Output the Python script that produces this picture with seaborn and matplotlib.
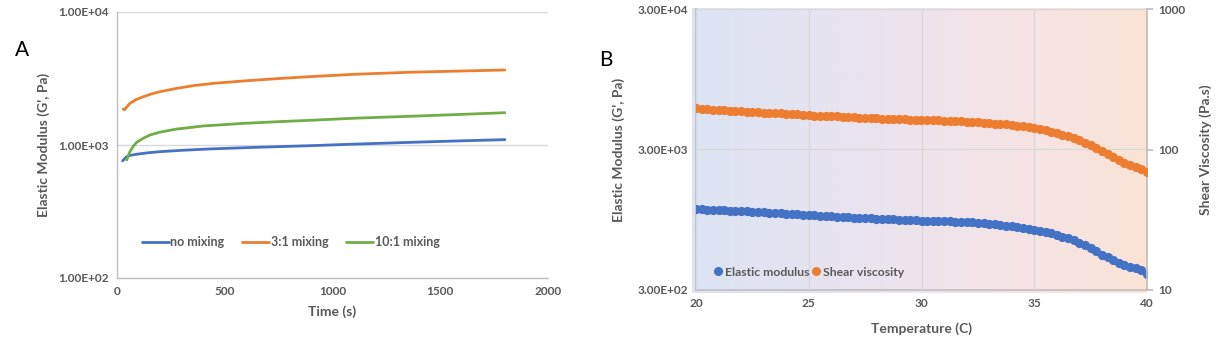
import numpy as np
import pandas as pd
import matplotlib
matplotlib.use("Agg")
import matplotlib.pyplot as plt
from matplotlib.colors import LinearSegmentedColormap
from matplotlib.ticker import FixedLocator, FixedFormatter, NullLocator
from matplotlib.lines import Line2D
import seaborn as sns

sns.set_theme(style="white")
plt.rcParams['font.family'] = ['Lato', 'DejaVu Sans']

# ---------------- Panel A data ----------------
time_no_mix = [26, 35, 45, 60, 91, 140, 200, 300, 431, 600, 750, 896, 1100, 1360, 1600, 1800]
g_no_mix = [759, 790, 817, 835, 852, 873, 891, 912, 934, 955, 972, 988, 1015, 1047, 1075, 1097]

time_3to1 = [29, 35, 45, 60, 90, 122, 160, 200, 280, 354, 450, 586, 750, 896, 1100, 1360, 1600, 1800]
g_3to1 = [1867, 1840, 1930, 2056, 2200, 2306, 2420, 2517, 2670, 2794, 2910, 3030, 3160, 3265, 3400, 3524, 3600, 3664]

time_10to1 = [45, 52, 60, 75, 91, 120, 153, 200, 277, 400, 586, 750, 896, 1100, 1360, 1600, 1800]
g_10to1 = [771, 830, 891, 975, 1047, 1120, 1189, 1250, 1318, 1390, 1454, 1498, 1533, 1590, 1644, 1700, 1749]

labels_a = ["no mixing", "3:1 mixing", "10:1 mixing"]
a_yticks = [100, 1000, 10000]
a_yticklabels = ["1.00E+02", "1.00E+03", "1.00E+04"]
a_xticks = [0, 500, 1000, 1500, 2000]

# ---------------- Panel B data ----------------
temperature = [20.00, 20.25, 20.50, 20.75, 21.00, 21.25, 21.50, 21.75, 22.00, 22.25,
               22.50, 22.75, 23.00, 23.25, 23.50, 23.75, 24.00, 24.25, 24.50, 24.75,
               25.00, 25.25, 25.50, 25.75, 26.00, 26.25, 26.50, 26.75, 27.00, 27.25,
               27.50, 27.75, 28.00, 28.25, 28.50, 28.75, 29.00, 29.25, 29.50, 29.75,
               30.00, 30.25, 30.50, 30.75, 31.00, 31.25, 31.50, 31.75, 32.00, 32.25,
               32.50, 32.75, 33.00, 33.25, 33.50, 33.75, 34.00, 34.25, 34.50, 34.75,
               35.00, 35.25, 35.50, 35.75, 36.00, 36.25, 36.50, 36.75, 37.00, 37.25,
               37.50, 37.75, 38.00, 38.25, 38.50, 38.75, 39.00, 39.25, 39.50, 39.75,
               40.00]
elastic_modulus = [1130, 1124, 1121, 1118, 1110, 1107, 1103, 1096, 1092, 1088,
                   1083, 1077, 1072, 1068, 1061, 1056, 1050, 1046, 1038, 1033,
                   1027, 1020, 1012, 1008, 1002, 998, 996, 988, 983, 980,
                   976, 971, 968, 966, 960, 956, 952, 950, 946, 940,
                   936, 934, 932, 927, 925, 922, 918, 915, 911, 908,
                   901, 894, 886, 879, 870, 860, 850, 840, 829, 816,
                   803, 789, 774, 758, 740, 719, 699, 676, 652, 625,
                   597, 564, 535, 512, 490, 470, 452, 438, 427, 414,
                   392]
shear_viscosity = [196, 194, 193, 192, 191, 190, 189, 188, 187, 186,
                   185, 184, 183, 182, 181, 180.5, 179.5, 178.5, 177.5, 176.5,
                   175.5, 174.5, 173.5, 173, 172.5, 172, 171, 170, 169, 168,
                   167.5, 167, 166.5, 166, 165.5, 165, 164.5, 164, 163.5, 163,
                   162.5, 162, 161.5, 161, 160.5, 160, 159.5, 158.5, 158, 157,
                   156, 155, 154, 153, 152, 151, 149.5, 148, 146, 144,
                   142, 139.5, 137, 134, 131, 127.5, 124, 120.5, 117, 112,
                   107, 102, 97, 93, 89, 84.5, 80, 77, 74.5, 73,
                   69.5]
b_left_ticks = [300, 3000, 30000]
b_left_labels = ["3.00E+02", "3.00E+03", "3.00E+04"]
b_right_ticks = [10, 100, 1000]
b_right_labels = ["10", "100", "1000"]
b_xticks = [20, 25, 30, 35, 40]

# ---------------- Styles ----------------
BLUE = "#4472C4"
ORANGE = "#ED7D31"
GREEN = "#70AD47"
GRID = "#D9D9D9"
AXIS = "#BFBFBF"
TXT = "#595959"
TICK_FS = 8.6
LAB_FS = 10
LEG_FS = 9.0

fig = plt.figure(figsize=(12.16, 3.44), dpi=100)

# ================= Panel A =================
axA = fig.add_axes([117/1216, 1 - 278/344, 431/1216, 266/344])
dfA = pd.concat([
    pd.DataFrame({"t": time_no_mix, "g": g_no_mix, "s": labels_a[0]}),
    pd.DataFrame({"t": time_3to1, "g": g_3to1, "s": labels_a[1]}),
    pd.DataFrame({"t": time_10to1, "g": g_10to1, "s": labels_a[2]}),
])
sns.lineplot(data=dfA, x="t", y="g", hue="s", palette=[BLUE, ORANGE, GREEN],
             linewidth=2, ax=axA, sort=False, estimator=None)
axA.set_yscale("log")
axA.set_ylim(100, 10000)
axA.set_xlim(0, 2000)
axA.yaxis.set_major_locator(FixedLocator(a_yticks))
axA.yaxis.set_major_formatter(FixedFormatter(a_yticklabels))
axA.yaxis.set_minor_locator(NullLocator())
axA.set_xticks(a_xticks)
axA.set_xticklabels([str(v) for v in a_xticks])
axA.grid(axis="y", color=GRID, linewidth=1)
axA.grid(axis="x", visible=False)
for s in ["top", "right"]:
    axA.spines[s].set_visible(False)
for s in ["left", "bottom"]:
    axA.spines[s].set_color(AXIS)
    axA.spines[s].set_linewidth(1)
axA.tick_params(axis="both", length=0, labelsize=TICK_FS, labelcolor=TXT, pad=6)
for lab in axA.get_xticklabels() + axA.get_yticklabels():
    lab.set_fontweight("bold")
axA.set_xlabel("Time (s)", fontsize=LAB_FS, color=TXT, fontweight="bold", labelpad=6)
axA.set_ylabel("Elastic Modulus (G', Pa)", fontsize=LAB_FS, color=TXT, fontweight="bold", labelpad=6)
legA = axA.legend(loc="center", bbox_to_anchor=(0.4026, 0.135), ncol=3, frameon=False,
                  handlelength=2.2, handletextpad=0.1, columnspacing=1.4,
                  prop={"size": LEG_FS, "weight": "bold"})
for t in legA.get_texts():
    t.set_color(TXT)
fig.text(22/1216, 1 - 50/344, "A", fontsize=15, color="black", ha="center", va="center")

# ================= Panel B =================
axB = fig.add_axes([696/1216, 1 - 290/344, 451/1216, 281/344])
cmap = LinearSegmentedColormap.from_list(
    "bg", [(0.0, "#DCE3F3"), (0.45, "#ECE3EE"), (0.75, "#F6E4E4"), (1.0, "#FAE3D5")])
grad = np.linspace(0, 1, 256).reshape(1, -1)
axB.imshow(grad, cmap=cmap, aspect="auto", extent=(-0.008, 1.0, -0.012, 1.0),
           transform=axB.transAxes, zorder=0, clip_on=False)

dfE = pd.DataFrame({"T": temperature, "v": elastic_modulus})
sns.scatterplot(data=dfE, x="T", y="v", color=BLUE, s=44, linewidth=0, ax=axB,
                zorder=3, legend=False)
axB.set_yscale("log")
axB.set_ylim(300, 30000)
axB.set_xlim(20, 40)
axB.yaxis.set_major_locator(FixedLocator(b_left_ticks))
axB.yaxis.set_major_formatter(FixedFormatter(b_left_labels))
axB.yaxis.set_minor_locator(NullLocator())
axB.set_xticks(b_xticks)
axB.set_xticklabels([str(v) for v in b_xticks])
axB.grid(True, color=GRID, linewidth=1, zorder=1)
axB.set_axisbelow(False)
for s in ["top", "right"]:
    axB.spines[s].set_visible(False)
for s in ["left", "bottom"]:
    axB.spines[s].set_color(AXIS)
axB.tick_params(axis="both", length=0, labelsize=TICK_FS, labelcolor=TXT, pad=6)
for lab in axB.get_xticklabels() + axB.get_yticklabels():
    lab.set_fontweight("bold")
axB.set_xlabel("Temperature (C)", fontsize=LAB_FS, color=TXT, fontweight="bold", labelpad=9)
axB.set_ylabel("Elastic Modulus (G', Pa)", fontsize=LAB_FS, color=TXT, fontweight="bold", labelpad=9)

axB2 = axB.twinx()
dfS = pd.DataFrame({"T": temperature, "v": shear_viscosity})
sns.scatterplot(data=dfS, x="T", y="v", color=ORANGE, s=44, linewidth=0, ax=axB2,
                zorder=3, legend=False)
axB2.set_yscale("log")
axB2.set_ylim(10, 1000)
axB2.yaxis.set_major_locator(FixedLocator(b_right_ticks))
axB2.yaxis.set_major_formatter(FixedFormatter(b_right_labels))
axB2.yaxis.set_minor_locator(NullLocator())
axB2.grid(False)
for s in ["top", "left", "bottom"]:
    axB2.spines[s].set_visible(False)
axB2.spines["right"].set_color(AXIS)
axB2.tick_params(axis="y", length=4, color=AXIS, labelsize=TICK_FS, labelcolor=TXT, pad=4)
for lab in axB2.get_yticklabels():
    lab.set_fontweight("bold")
axB2.set_ylabel("Shear Viscosity (Pa.s)", fontsize=LAB_FS, color=TXT, fontweight="bold", labelpad=10)

handles = [Line2D([], [], marker="o", linestyle="", color=BLUE, markersize=5.5),
           Line2D([], [], marker="o", linestyle="", color=ORANGE, markersize=5.5)]
legB = axB2.legend(handles, ["Elastic modulus", "Shear viscosity"], loc="center",
                   bbox_to_anchor=(0.2506, 0.064), ncol=2, frameon=False,
                   handlelength=0.6, handletextpad=0.3, columnspacing=0.2,
                   prop={"size": 8.8, "weight": "bold"})
for t in legB.get_texts():
    t.set_color(TXT)
fig.text(606/1216, 1 - 60/344, "B", fontsize=15, color="black", ha="center", va="center")

fig.savefig("out.png", dpi=100)
